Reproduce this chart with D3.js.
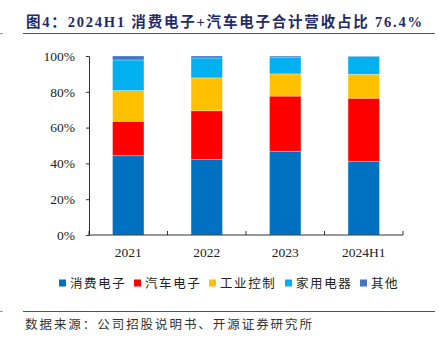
<!DOCTYPE html>
<html>
<head>
<meta charset="utf-8">
<script src="https://cdn.jsdelivr.net/npm/d3@7"></script>
<style>
  body { margin: 0; background: #fff; }
  svg { display: block; }
</style>
</head>
<body>
<div id="chart"></div>
<script>
// revenue share by application, per period (%)
const periods = ["2021", "2022", "2023", "2024H1"];
const seriesNames = ["消费电子", "汽车电子", "工业控制", "家用电器", "其他"];
const consumer = [44.3, 42.1, 46.8, 41.2];
const auto = [19.2, 27.3, 30.8, 35.2];
const industrial = [17.2, 18.4, 12.4, 13.4];
const appliance = [17.1, 11.1, 9.4, 10.0];
const other = [2.2, 1.1, 0.6, 0.2];
const yTicks = [0, 20, 40, 60, 80, 100];
const colors = ["#0070C0", "#FF0000", "#FFC000", "#00B0F0", "#4472C4"];

const W = 439, H = 345;
const margin = { left: 89, right: 36, top: 56, bottom: 110 };

const svg = d3.select("#chart").append("svg")
    .attr("width", W)
    .attr("height", H);

const serif = "'Times New Roman', 'Liberation Serif', 'Noto Sans CJK SC', serif";
const cjk = "'Noto Sans CJK SC', sans-serif";

// title + rules
svg.append("text")
    .attr("x", 26)
    .attr("y", 27)
    .attr("fill", "#1F2A6B")
    .style("font-family", serif)
    .style("font-weight", "bold")
    .style("font-size", "14.5px")
    .attr("textLength", 396)
    .attr("lengthAdjust", "spacing")
    .text("图4：2024H1 消费电子+汽车电子合计营收占比 76.4%");

[33.5, 311.5].forEach(y => {
    svg.append("line").attr("x1", 23).attr("x2", 435).attr("y1", y).attr("y2", y)
        .attr("stroke", "#555").attr("stroke-width", 1);
    svg.append("line").attr("x1", 0).attr("x2", 3).attr("y1", y).attr("y2", y)
        .attr("stroke", "#999").attr("stroke-width", 1);
});

// data stacked per period
const rows = periods.map((p, i) => ({
    period: p,
    "消费电子": consumer[i],
    "汽车电子": auto[i],
    "工业控制": industrial[i],
    "家用电器": appliance[i],
    "其他": other[i]
}));
const stacked = d3.stack().keys(seriesNames)(rows);

const x = d3.scaleBand()
    .domain(periods)
    .range([margin.left, W - margin.right])
    .paddingInner(0.6)
    .paddingOuter(0.3);

const y = d3.scaleLinear()
    .domain([0, 100])
    .range([H - margin.bottom, margin.top]);

const g = svg.append("g");

g.selectAll("g.layer")
    .data(stacked)
    .enter()
    .append("g")
    .attr("class", "layer")
    .attr("fill", (d, i) => colors[i])
    .selectAll("rect")
    .data(d => d)
    .enter()
    .append("rect")
    .attr("x", d => x(d.data.period))
    .attr("width", x.bandwidth())
    .attr("y", d => y(d[1]))
    .attr("height", d => y(d[0]) - y(d[1]))
    .attr("stroke", "rgba(255,255,255,0.35)")
    .attr("stroke-width", 0.8);

// y axis
const yAxis = svg.append("g")
    .attr("transform", "translate(" + margin.left + ",0)")
    .call(d3.axisLeft(y).tickValues(yTicks).tickSize(3).tickPadding(11)
        .tickFormat(d => d + "%"));
yAxis.select(".domain").attr("stroke", "#333");
yAxis.selectAll(".tick line").attr("stroke", "#333");
yAxis.selectAll("text")
    .style("font-family", serif)
    .style("font-size", "13.5px")
    .attr("fill", "#222");

// x axis, ticks sit between bands and point upward
const xBase = y(0);
svg.append("line")
    .attr("x1", margin.left).attr("x2", W - margin.right)
    .attr("y1", xBase).attr("y2", xBase)
    .attr("stroke", "#333");
const step = x.step();
const edges = d3.range(periods.length + 1).map(i => margin.left + i * (W - margin.left - margin.right) / periods.length);
svg.selectAll("line.xt")
    .data(edges)
    .enter()
    .append("line")
    .attr("class", "xt")
    .attr("x1", d => d).attr("x2", d => d)
    .attr("y1", xBase).attr("y2", xBase - 4)
    .attr("stroke", "#333");

svg.selectAll("text.xl")
    .data(periods)
    .enter()
    .append("text")
    .attr("class", "xl")
    .attr("x", d => x(d) + x.bandwidth() / 2)
    .attr("y", 257)
    .attr("text-anchor", "middle")
    .style("font-family", serif)
    .style("font-size", "13.5px")
    .attr("fill", "#222")
    .text(d => d);

// legend
const legendX = [59, 134, 209, 285, 360];
const legend = svg.selectAll("g.leg")
    .data(seriesNames)
    .enter()
    .append("g")
    .attr("class", "leg")
    .attr("transform", (d, i) => "translate(" + legendX[i] + ",283)");
legend.append("rect")
    .attr("x", 0).attr("y", -3.5)
    .attr("width", 7).attr("height", 7)
    .attr("fill", (d, i) => colors[i]);
legend.append("text")
    .attr("x", 11)
    .attr("y", 4.5)
    .style("font-family", cjk)
    .style("font-size", "12.5px")
    .style("letter-spacing", "1.6px")
    .attr("fill", "#222")
    .text(d => d);

// source note
svg.append("text")
    .attr("x", 25)
    .attr("y", 329)
    .style("font-family", cjk)
    .style("font-size", "12.5px")
    .attr("textLength", 287)
    .attr("lengthAdjust", "spacing")
    .attr("fill", "#333")
    .text("数据来源：公司招股说明书、开源证券研究所");
</script>
</body>
</html>
